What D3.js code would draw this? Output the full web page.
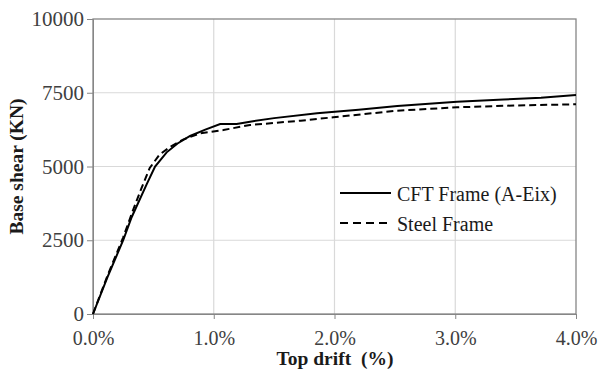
<!DOCTYPE html>
<html>
<head>
<meta charset="utf-8">
<script src="https://cdn.jsdelivr.net/npm/d3@7"></script>
<style>
  body { margin: 0; background: #fff; }
</style>
</head>
<body>
<svg id="chart" width="598" height="371"></svg>
<script>
// top drift (%) and base shear (kN)
const cftDrift = [0, 0.12, 0.25, 0.32, 0.445, 0.514, 0.61, 0.7, 0.804, 0.93, 1.053, 1.19, 1.3, 1.5, 1.855, 2.2, 2.52, 3.015, 3.4, 3.71, 4.0];
const cftShear = [0, 1250, 2500, 3280, 4400, 5000, 5480, 5780, 6034, 6250, 6441, 6441, 6520, 6640, 6803, 6920, 7050, 7197, 7270, 7332, 7424];
const steelDrift = [0, 0.12, 0.25, 0.334, 0.4, 0.47, 0.55, 0.64, 0.75, 0.89, 1.08, 1.3, 1.72, 1.99, 2.52, 3.015, 3.5, 4.0];
const steelShear = [0, 1300, 2600, 3550, 4250, 4950, 5400, 5671, 5922, 6125, 6237, 6407, 6553, 6668, 6892, 7007, 7070, 7108];
const xTicks = [0, 1, 2, 3, 4];
const yTicks = [0, 2500, 5000, 7500, 10000];
const seriesNames = ['CFT Frame (A-Eix)', 'Steel Frame'];

const W = 598, H = 371;
const m = { top: 19, right: 22, bottom: 57, left: 93 };
const FONT = 'Liberation Serif';

const svg = d3.select('#chart');
const x = d3.scaleLinear().domain([0, 4]).range([m.left, W - m.right]);
const y = d3.scaleLinear().domain([0, 10000]).range([H - m.bottom, m.top]);

// gridlines
svg.append('g').selectAll('line').data(yTicks.slice(1, -1)).join('line')
  .attr('x1', m.left).attr('x2', W - m.right)
  .attr('y1', d => y(d)).attr('y2', d => y(d))
  .attr('stroke', '#d9d9d9').attr('stroke-width', 1.2);
svg.append('g').selectAll('line').data(xTicks.slice(1, -1)).join('line')
  .attr('y1', m.top).attr('y2', H - m.bottom)
  .attr('x1', d => x(d)).attr('x2', d => x(d))
  .attr('stroke', '#d9d9d9').attr('stroke-width', 1.2);

// frame
svg.append('rect')
  .attr('x', m.left).attr('y', m.top)
  .attr('width', W - m.left - m.right).attr('height', H - m.top - m.bottom)
  .attr('fill', 'none').attr('stroke', '#868686').attr('stroke-width', 1.3);

// axes
const xAxis = d3.axisBottom(x).tickValues(xTicks).tickSize(5).tickPadding(12)
  .tickFormat(d => d.toFixed(1) + '%');
svg.append('g').attr('transform', `translate(0,${H - m.bottom})`).call(xAxis)
  .attr('font-family', FONT)
  .call(g => g.select('.domain').attr('stroke', '#868686'))
  .call(g => g.selectAll('.tick line').attr('stroke', '#868686'))
  .call(g => g.selectAll('text').attr('font-size', 20).attr('fill', '#404040'));

const yAxis = d3.axisLeft(y).tickValues(yTicks).tickSize(6).tickPadding(3)
  .tickFormat(d3.format('d'));
svg.append('g').attr('transform', `translate(${m.left},0)`).call(yAxis)
  .attr('font-family', FONT)
  .call(g => g.select('.domain').attr('stroke', '#868686'))
  .call(g => g.selectAll('.tick line').attr('stroke', '#868686'))
  .call(g => g.selectAll('text').attr('font-size', 21).attr('fill', '#404040'));

// curves
const line = d3.line().x(d => x(d[0])).y(d => y(d[1]));
const cft = d3.zip(cftDrift, cftShear);
const steel = d3.zip(steelDrift, steelShear);

svg.append('path').datum(steel).attr('d', line)
  .attr('fill', 'none').attr('stroke', '#000').attr('stroke-width', 2)
  .attr('stroke-dasharray', '7,4');
svg.append('path').datum(cft).attr('d', line)
  .attr('fill', 'none').attr('stroke', '#000').attr('stroke-width', 2);

// legend
const leg = svg.append('g').attr('transform', 'translate(340,193)');
seriesNames.forEach((name, i) => {
  const g = leg.append('g').attr('transform', `translate(0,${i * 30})`);
  g.append('line').attr('x1', 0).attr('x2', i === 1 ? 47 : 51).attr('y1', 0).attr('y2', 0)
    .attr('stroke', '#000').attr('stroke-width', 2)
    .attr('stroke-dasharray', i === 1 ? '8,5' : null);
  g.append('text').attr('x', 57).attr('y', 8).attr('font-size', 20)
    .attr('font-family', FONT).attr('fill', '#1a1a1a').text(name);
});

// axis titles
svg.append('text').attr('x', 335).attr('y', 365).attr('text-anchor', 'middle')
  .attr('font-family', FONT).attr('font-size', 19.5).attr('font-weight', 'bold')
  .attr('fill', '#1a1a1a').text('Top drift  (%)').style('white-space', 'pre');
svg.append('text')
  .attr('transform', `translate(23,${(m.top + H - m.bottom) / 2}) rotate(-90)`)
  .attr('text-anchor', 'middle')
  .attr('font-family', FONT).attr('font-size', 19.5).attr('font-weight', 'bold')
  .attr('fill', '#1a1a1a').text('Base shear (KN)');
</script>
</body>
</html>
